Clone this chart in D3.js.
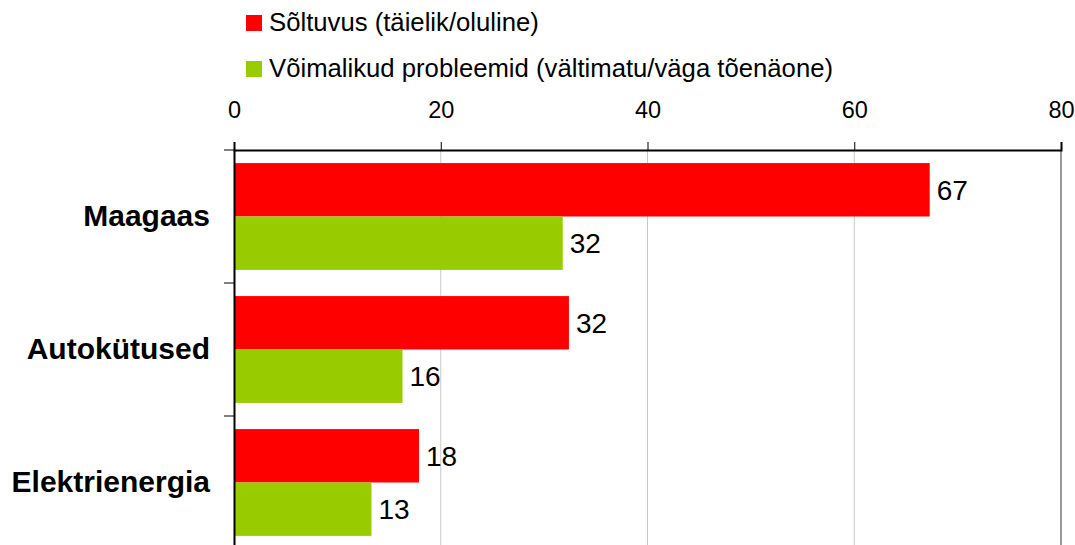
<!DOCTYPE html>
<html>
<head>
<meta charset="utf-8">
<script src="https://cdn.jsdelivr.net/npm/d3@7"></script>
<style>
  body { margin: 0; background: #fff; }
  svg { display: block; font-family: "Liberation Sans", Arial, sans-serif; }
</style>
</head>
<body>
<svg width="1075" height="545"></svg>
<script>
// chart data
const categories = ["Maagaas", "Autokütused", "Elektrienergia"];
const seriesNames = ["Sõltuvus (täielik/oluline)", "Võimalikud probleemid (vältimatu/väga tõenäone)"];
const dependence = [67.3, 32.4, 17.9];
const problems = [31.8, 16.3, 13.3];
const xTicks = [0, 20, 40, 60, 80];

const colors = ["#ff0000", "#99cc00"];

const svg = d3.select("svg");
const margin = {left: 234, right: 14, top: 150};
const plotW = 1075 - margin.left - margin.right;
const bandH = 133;
const plotH = bandH * categories.length;

const x = d3.scaleLinear().domain([0, 80]).range([0, plotW]);
const y = d3.scaleBand().domain(categories).range([0, plotH]);
const inner = d3.scaleBand().domain([0, 1]).range([0, bandH]).paddingOuter(0.245);

const g = svg.append("g").attr("transform", `translate(${margin.left},${margin.top})`);

// gridlines
g.append("g")
  .selectAll("line")
  .data(xTicks.slice(1))
  .join("line")
    .attr("x1", d => x(d)).attr("x2", d => x(d))
    .attr("y1", 0).attr("y2", plotH)
    .attr("stroke", d => d === 80 ? "#999" : "#c8c8c8")
    .attr("stroke-width", d => d === 80 ? 2 : 1);

// bars
const rows = categories.map((c, i) => ({cat: c, vals: [dependence[i], problems[i]]}));
const grp = g.selectAll("g.cat")
  .data(rows)
  .join("g")
    .attr("class", "cat")
    .attr("transform", d => `translate(0,${y(d.cat)})`);

grp.selectAll("rect")
  .data(d => d.vals.map((v, k) => ({v, k})))
  .join("rect")
    .attr("x", 0)
    .attr("y", d => inner(d.k))
    .attr("width", d => x(d.v))
    .attr("height", inner.bandwidth())
    .attr("fill", d => colors[d.k]);

grp.selectAll("text.val")
  .data(d => d.vals.map((v, k) => ({v, k})))
  .join("text")
    .attr("class", "val")
    .attr("x", d => x(d.v) + 7)
    .attr("y", d => inner(d.k) + inner.bandwidth() / 2)
    .attr("dy", "0.36em")
    .attr("font-size", 28)
    .attr("fill", "#000")
    .text(d => Math.round(d.v));

// top axis
const xAxis = g.append("g")
  .call(d3.axisTop(x).tickValues(xTicks).tickSize(8).tickPadding(24).tickFormat(d3.format("d")));
xAxis.select(".domain").attr("stroke", "#000").attr("stroke-width", 2);
xAxis.selectAll(".tick line").attr("stroke", "#000");
xAxis.selectAll(".tick text").attr("font-size", 23.5).attr("fill", "#000")
  .attr("font-family", "Liberation Sans, Arial, sans-serif");

// left axis
const yAxis = g.append("g")
  .call(d3.axisLeft(y).tickSize(0).tickPadding(24));
yAxis.select(".domain").attr("stroke", "#000").attr("stroke-width", 2);
yAxis.selectAll(".tick text").attr("font-size", 30).attr("font-weight", "bold").attr("fill", "#000")
  .attr("font-family", "Liberation Sans, Arial, sans-serif");
g.append("g")
  .selectAll("line")
  .data(d3.range(categories.length + 1))
  .join("line")
    .attr("x1", -10).attr("x2", 0)
    .attr("y1", d => d * bandH).attr("y2", d => d * bandH)
    .attr("stroke", "#000");

// legend
const legend = svg.append("g").attr("transform", "translate(246,15)");
const item = legend.selectAll("g")
  .data(seriesNames)
  .join("g")
    .attr("transform", (d, i) => `translate(0,${i * 46})`);
item.append("rect")
  .attr("width", 16).attr("height", 16)
  .attr("fill", (d, i) => colors[i]);
item.append("text")
  .attr("x", 23).attr("y", 7).attr("dy", "0.36em")
  .attr("font-size", 25.7)
  .text(d => d);
</script>
</body>
</html>
